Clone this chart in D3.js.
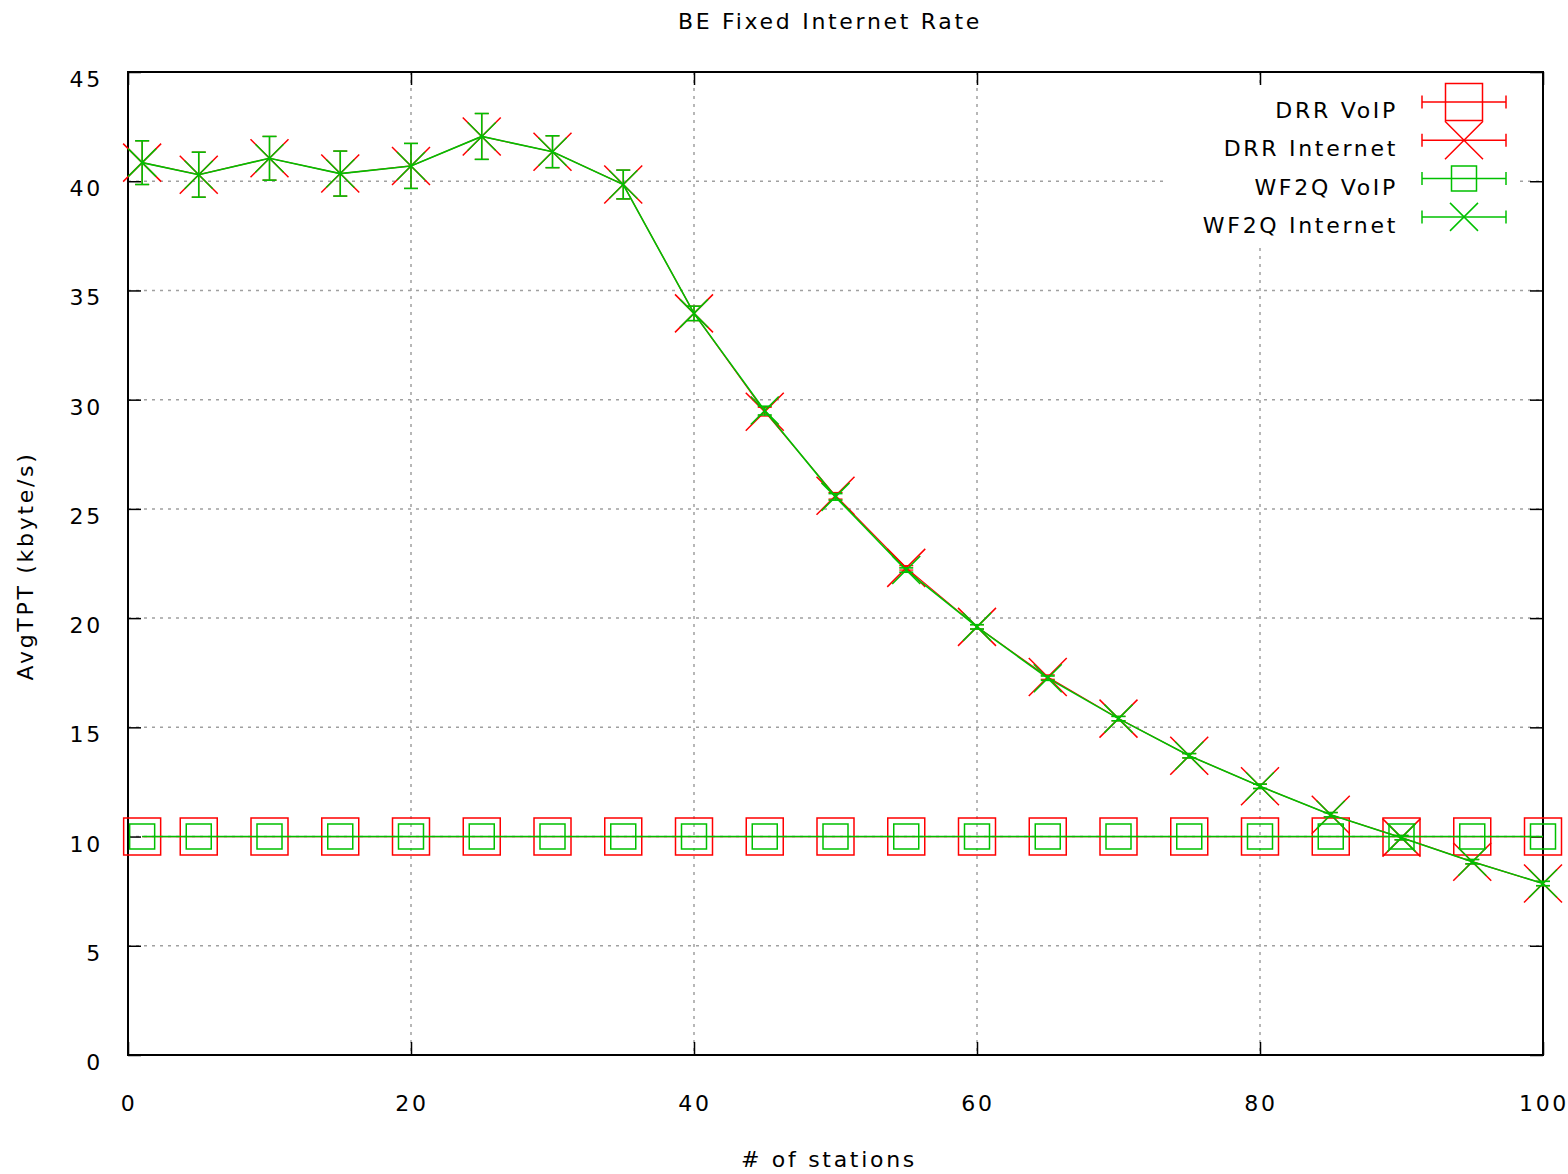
<!DOCTYPE html>
<html>
<head>
<meta charset="utf-8">
<script src="https://cdn.jsdelivr.net/npm/d3@7"></script>
<style>
  body { margin: 0; background: #fff; }
  svg text { font-family: "DejaVu Sans", sans-serif; font-size: 22px; letter-spacing: 2.7px; fill: #000; }
</style>
</head>
<body>
<svg width="1568" height="1174"></svg>
<script>
// data
var stations = [1, 5, 10, 15, 20, 25, 30, 35, 40, 45, 50, 55, 60, 65, 70, 75, 80, 85, 90, 95, 100];
var drrVoip  = [10, 10, 10, 10, 10, 10, 10, 10, 10, 10, 10, 10, 10, 10, 10, 10, 10, 10, 10, 10, 10];
var wf2qVoip = [10, 10, 10, 10, 10, 10, 10, 10, 10, 10, 10, 10, 10, 10, 10, 10, 10, 10, 10, 10, 10];
var drrInternet  = [40.85, 40.3, 41.05, 40.35, 40.7, 42.05, 41.35, 39.85, 33.95, 29.45, 25.6, 22.3, 19.6, 17.3, 15.4, 13.7, 12.3, 11.0, 9.95, 8.85, 7.85];
var drrInternetErr = [1.0, 1.03, 1.0, 1.03, 1.03, 1.05, 0.73, 0.66, 0.33, 0.2, 0.15, 0.1, 0.1, 0.1, 0.1, 0.1, 0.1, 0.1, 0.1, 0.1, 0.1];
var wf2qInternet = [40.85, 40.3, 41.05, 40.35, 40.7, 42.05, 41.35, 39.85, 33.95, 29.5, 25.55, 22.2, 19.6, 17.25, 15.4, 13.7, 12.3, 11.0, 9.95, 8.85, 7.85];
var wf2qInternetErr = [1.0, 1.03, 1.0, 1.03, 1.03, 1.05, 0.73, 0.66, 0.33, 0.2, 0.15, 0.1, 0.1, 0.1, 0.1, 0.1, 0.1, 0.1, 0.1, 0.1, 0.1];
var xTicks = [0, 20, 40, 60, 80, 100];
var yTicks = [0, 5, 10, 15, 20, 25, 30, 35, 40, 45];

var red = '#ff0000', green = '#00c000';

// red series sit under the green ones, drawn a bit thinner so green covers them
var series = [
    { name: 'DRR VoIP', values: drrVoip, err: null, color: red, symbol: 'box', size: 37, lw: 1.2 },
    { name: 'DRR Internet', values: drrInternet, err: drrInternetErr, color: red, symbol: 'cross', size: 38, lw: 1.2 },
    { name: 'WF2Q VoIP', values: wf2qVoip, err: null, color: green, symbol: 'box', size: 25, lw: 1.6 },
    { name: 'WF2Q Internet', values: wf2qInternet, err: wf2qInternetErr, color: green, symbol: 'cross', size: 28, lw: 1.6 }
];

var pLeft = 128, pRight = 1543, pTop = 72, pBottom = 1055;
var x = d3.scaleLinear().domain([0, 100]).range([pLeft, pRight]);
var y = d3.scaleLinear().domain([0, 45]).range([pBottom, pTop]);

var svg = d3.select('svg');

function createG(node, name) {
    return node.append('g').attr('class', name);
}

// grid
var gridG = createG(svg, 'grid');
gridG.selectAll('line.gx')
    .data(xTicks.slice(1, -1))
    .enter().append('line')
    .attr('x1', d => x(d)).attr('x2', d => x(d))
    .attr('y1', pTop).attr('y2', pBottom)
    .style('stroke', '#a0a0a0').style('stroke-width', 1.5).style('stroke-dasharray', '3,5');
gridG.selectAll('line.gy')
    .data(yTicks.slice(1, -1))
    .enter().append('line')
    .attr('x1', pLeft).attr('x2', pRight)
    .attr('y1', d => y(d)).attr('y2', d => y(d))
    .style('stroke', '#a0a0a0').style('stroke-width', 1.5).style('stroke-dasharray', '3,5');

// legend blanks the grid behind it
svg.append('rect')
    .attr('x', 1165).attr('y', 84).attr('width', 355).attr('height', 160)
    .style('fill', '#fff');

// axes, ticks pointing inward on all four sides
function styleAxis(g) {
    g.select('.domain').remove();
    g.selectAll('.tick line').style('stroke', '#000').style('stroke-width', 1.5);
    g.selectAll('.tick text').remove();
}
svg.append('g').attr('transform', 'translate(0,' + pBottom + ')')
    .call(d3.axisBottom(x).tickValues(xTicks).tickSize(-13)).call(styleAxis);
svg.append('g').attr('transform', 'translate(0,' + pTop + ')')
    .call(d3.axisTop(x).tickValues(xTicks).tickSize(-13)).call(styleAxis);
svg.append('g').attr('transform', 'translate(' + pLeft + ',0)')
    .call(d3.axisLeft(y).tickValues(yTicks).tickSize(-13)).call(styleAxis);
svg.append('g').attr('transform', 'translate(' + pRight + ',0)')
    .call(d3.axisRight(y).tickValues(yTicks).tickSize(-13)).call(styleAxis);

// tick labels
svg.append('g').selectAll('text')
    .data(xTicks).enter().append('text')
    .attr('x', d => x(d) + 1).attr('y', 1105)
    .attr('text-anchor', 'middle').attr('dominant-baseline', 'middle')
    .text(d => d);
svg.append('g').selectAll('text')
    .data(yTicks).enter().append('text')
    .attr('x', 103).attr('y', d => y(d) + 9)
    .attr('text-anchor', 'end').attr('dominant-baseline', 'middle')
    .text(d => d);

// frame
svg.append('rect')
    .attr('x', pLeft).attr('y', pTop).attr('width', pRight - pLeft).attr('height', pBottom - pTop)
    .style('fill', 'none').style('stroke', '#000').style('stroke-width', 2);

// titles
svg.append('text').attr('x', 830).attr('y', 23)
    .attr('text-anchor', 'middle').attr('dominant-baseline', 'middle')
    .text('BE Fixed Internet Rate');
svg.append('text').attr('x', 829).attr('y', 1161)
    .attr('text-anchor', 'middle').attr('dominant-baseline', 'middle')
    .text('# of stations');
svg.append('text')
    .attr('transform', 'translate(27,566) rotate(-90)')
    .attr('text-anchor', 'middle').attr('dominant-baseline', 'middle')
    .text('AvgTPT (kbyte/s)');

function symbolPath(kind, s) {
    var h = s / 2;
    if (kind === 'box') return 'M' + (-h) + ',' + (-h) + 'H' + h + 'V' + h + 'H' + (-h) + 'Z';
    return 'M' + (-h) + ',' + (-h) + 'L' + h + ',' + h + 'M' + h + ',' + (-h) + 'L' + (-h) + ',' + h;
}

// series
var line = d3.line().x(d => x(d[0])).y(d => y(d[1]));
series.forEach(function(s) {
    var g = createG(svg, 'series');
    var pts = stations.map((st, i) => [st, s.values[i], s.err ? s.err[i] : 0]);
    g.append('path').datum(pts).attr('d', line)
        .style('fill', 'none').style('stroke', s.color).style('stroke-width', s.lw);
    if (s.err) {
        var bars = g.selectAll('g.bar').data(pts).enter().append('g');
        bars.append('line')
            .attr('x1', d => x(d[0])).attr('x2', d => x(d[0]))
            .attr('y1', d => y(d[1] - d[2])).attr('y2', d => y(d[1] + d[2]));
        bars.append('line')
            .attr('x1', d => x(d[0]) - 7).attr('x2', d => x(d[0]) + 7)
            .attr('y1', d => y(d[1] + d[2])).attr('y2', d => y(d[1] + d[2]));
        bars.append('line')
            .attr('x1', d => x(d[0]) - 7).attr('x2', d => x(d[0]) + 7)
            .attr('y1', d => y(d[1] - d[2])).attr('y2', d => y(d[1] - d[2]));
        bars.selectAll('line').style('stroke', s.color).style('stroke-width', s.lw);
    }
    g.selectAll('path.pt').data(pts).enter().append('path')
        .attr('transform', d => 'translate(' + x(d[0]) + ',' + y(d[1]) + ')')
        .attr('d', symbolPath(s.symbol, s.size))
        .style('fill', 'none').style('stroke', s.color).style('stroke-width', 1.5);
});

// legend
var legend = createG(svg, 'legend');
var rows = legend.selectAll('g').data(series).enter().append('g')
    .attr('transform', (d, i) => 'translate(0,' + (102 + i * 38.3) + ')');
rows.append('text')
    .attr('x', 1398).attr('y', 10)
    .attr('text-anchor', 'end').attr('dominant-baseline', 'middle')
    .text(d => d.name);
rows.each(function(d) {
    var r = d3.select(this);
    r.append('line').attr('x1', 1422).attr('x2', 1506).attr('y1', 0).attr('y2', 0);
    r.append('line').attr('x1', 1422).attr('x2', 1422).attr('y1', -6.5).attr('y2', 6.5);
    r.append('line').attr('x1', 1506).attr('x2', 1506).attr('y1', -6.5).attr('y2', 6.5);
    r.selectAll('line').style('stroke', d.color).style('stroke-width', 1.5);
    r.append('path')
        .attr('transform', 'translate(1464,0)')
        .attr('d', symbolPath(d.symbol, d.size))
        .style('fill', 'none').style('stroke', d.color).style('stroke-width', 1.5);
});
</script>
</body>
</html>
